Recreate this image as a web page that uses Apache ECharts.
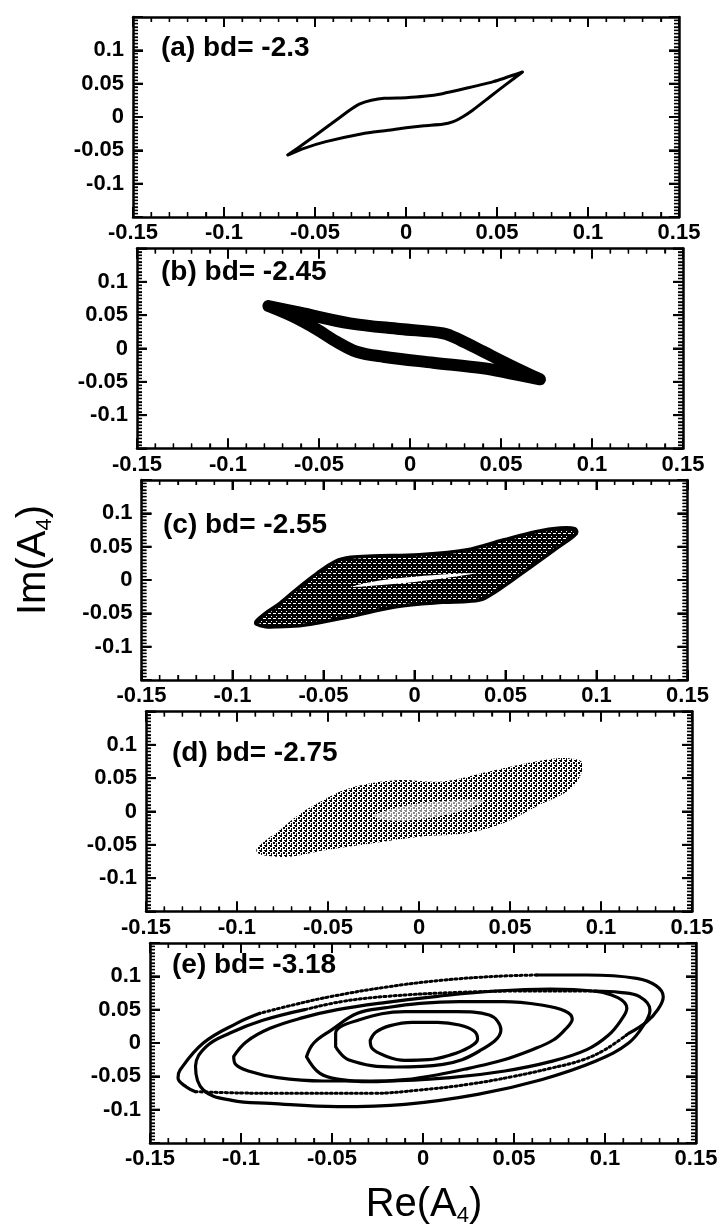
<!DOCTYPE html>
<html><head><meta charset="utf-8">
<script src="https://cdn.jsdelivr.net/npm/echarts@6/dist/echarts.min.js"></script>
<style>html,body{margin:0;padding:0;background:#fff}#chart{width:727px;height:1230px}</style>
</head><body><div id="chart"></div>
<script>
// ---------- tick labels ----------
const tickLabels = ['-0.15', '-0.1', '-0.05', '0', '0.05', '0.1', '0.15'];
const tickValues = [-0.15, -0.1, -0.05, 0, 0.05, 0.1, 0.15];
const panelLabels = ['(a) bd= -2.3', '(b) bd= -2.45', '(c) bd= -2.55', '(d) bd= -2.75', '(e) bd= -3.18'];
const xTitleMain = 'Re(A', yTitleMain = 'Im(A', titleSub = '4';

// ---------- data: [Re(A4), Im(A4)] ----------
// (a) limit cycle
const loopA = [[-0.065,-0.057],[-0.055,-0.038],[-0.045,-0.018],[-0.036,0.0],[-0.030,0.012],[-0.025,0.020],[-0.019,0.025],[-0.012,0.028],[0.0,0.029],[0.010,0.031],[0.020,0.035],[0.033,0.043],[0.048,0.053],[0.064,0.0675],
  [0.055,0.049],[0.046,0.030],[0.037,0.011],[0.031,0.0],[0.026,-0.007],[0.020,-0.011],[0.010,-0.013],[0.0,-0.016],[-0.010,-0.020],[-0.024,-0.025],[-0.044,-0.037],[-0.056,-0.047],[-0.065,-0.057]];
// (b) thick torus band (centre line)
const loopB = [[-0.0778,0.0637],[-0.0604,0.0537],[-0.033,0.0378],[-0.0055,0.0292],[0.0183,0.0228],[0.0275,0.0128],[0.0403,-0.0048],[0.0549,-0.0248],[0.0714,-0.0462],
  [0.0549,-0.0372],[0.0403,-0.0297],[0.0128,-0.0213],[-0.0147,-0.0123],[-0.0293,-0.0048],[-0.0403,0.0102],[-0.0513,0.0288],[-0.0641,0.0477],[-0.0778,0.0637]];
// (c) band outline and inner gap
const bandC = [[-0.087,-0.062],[-0.082,-0.05],[-0.074,-0.035],[-0.064,-0.012],[-0.0536,0.01],[-0.0434,0.028],[-0.035,0.034],[-0.0229,0.036],[0.0027,0.038],[0.0283,0.045],[0.0487,0.06],[0.0667,0.0725],[0.08,0.078],[0.088,0.077],
  [0.089,0.07],[0.0794,0.05],[0.0539,0.0],[0.0385,-0.0275],[0.03,-0.032],[0.0155,-0.0335],[-0.0102,-0.04],[-0.0357,-0.055],[-0.0613,-0.068],[-0.075,-0.07],[-0.0818,-0.07],[-0.087,-0.066]];
const holeC = [[-0.034,-0.010],[-0.020,-0.001],[0.0,0.005],[0.020,0.009],[0.033,0.010],[0.020,0.004],[0.0,-0.003],[-0.020,-0.008]];
// (d) chaotic cloud outline and sparse centre
const cloudD = [[-0.0894,-0.0578],[-0.085,-0.045],[-0.0766,-0.028],[-0.0661,-0.005],[-0.0561,0.012],[-0.0382,0.035],[-0.0126,0.047],[0.013,0.045],[0.0386,0.06],[0.0642,0.075],[0.0821,0.08],[0.09,0.072],
  [0.0846,0.037],[0.0642,0.007],[0.0463,-0.0177],[0.0258,-0.0327],[0.0002,-0.0378],[-0.0254,-0.0477],[-0.051,-0.0578],[-0.0714,-0.0678],[-0.0868,-0.065]];
const holeD = [[-0.025,-0.006],[-0.005,0.010],[0.020,0.017],[0.036,0.016],[0.022,0.0],[0.0,-0.012],[-0.018,-0.013]];
// (e) nested loops
const loopE1 = [[-0.029,0.004],[-0.026,0.016],[-0.018,0.026],[-0.006,0.031],[0.008,0.031],[0.02,0.027],[0.028,0.018],[0.03,0.006],[0.025,-0.007],[0.015,-0.018],[0.003,-0.025],[-0.01,-0.026],[-0.021,-0.019],[-0.028,-0.008],[-0.029,0.004]];
const loopE2 = [[-0.048,-0.0055],[-0.041,-0.025],[-0.015,-0.036],[0.011,-0.032],[0.031,-0.012],[0.0428,0.0195],[0.0364,0.042],[0.0185,0.047],[-0.0097,0.047],[-0.0353,0.0345],[-0.048,0.0145],[-0.048,-0.0055]];
const loopE3 = [[-0.064,-0.0205],[-0.06,0.0],[-0.05,0.02],[-0.036,0.0445],[-0.02,0.053],[-0.0016,0.0595],[0.02,0.062],[0.044,0.062],[0.065,0.057],[0.078,0.048],[0.082,0.036],[0.078,0.02],[0.0716,0.0045],[0.06,-0.01],[0.044,-0.0255],[0.025,-0.038],[0.0075,-0.048],[-0.01,-0.055],[-0.029,-0.058],[-0.045,-0.055],[-0.0566,-0.0455],[-0.064,-0.0205]];
const loopE4 = [[-0.104,-0.02],[-0.097,0.002],[-0.084,0.022],[-0.066,0.038],[-0.047,0.05],[-0.02,0.061],[0.008,0.07],[0.04,0.078],[0.07,0.081],[0.093,0.078],[0.107,0.068],[0.112,0.052],[0.109,0.035],[0.102,0.012],[0.09,-0.01],[0.07,-0.028],[0.045,-0.042],[0.015,-0.052],[-0.02,-0.057],[-0.055,-0.057],[-0.08,-0.052],[-0.096,-0.042],[-0.103,-0.032],[-0.104,-0.02]];
const loopE5Solid = [[-0.065,0.05],[-0.088,0.034],[-0.106,0.015],[-0.119,-0.005],[-0.125,-0.035],[-0.1207,-0.0705],[-0.105,-0.086],[-0.084,-0.0905],[-0.047,-0.0955],[-0.01,-0.092],[0.03,-0.077],[0.065,-0.055],[0.095,-0.027],[0.113,0.0],[0.122,0.03],[0.1247,0.0495],[0.119,0.0695],[0.108,0.076],[0.095,0.078]];
const loopE5Dotted = [[0.095,0.078],[0.06,0.078],[0.02,0.076],[-0.02,0.07],[-0.045,0.062],[-0.065,0.05]];
const loopE6SolidLeft = [[-0.0896,0.0445],[-0.1024,0.0295],[-0.1207,0.0],[-0.1335,-0.0405],[-0.1346,-0.0525],[-0.13,-0.066],[-0.125,-0.073]];
const loopE6DottedBottom = [[-0.125,-0.073],[-0.1,-0.075],[-0.079,-0.0755],[-0.0276,-0.0755],[-0.002,-0.0705],[0.025,-0.062],[0.049,-0.0505],[0.07,-0.038],[0.0876,-0.0255],[0.1,-0.01],[0.113,0.0145]];
const loopE6SolidRight = [[0.113,0.0145],[0.123,0.032],[0.129,0.05],[0.132,0.0695],[0.128,0.086],[0.1174,0.097],[0.09,0.102],[0.0625,0.102]];
const loopE6DottedTop = [[0.0625,0.102],[0.04,0.1],[0.01,0.094],[-0.02,0.084],[-0.05,0.07],[-0.07,0.058],[-0.0896,0.0445]];

// ---------- layout ----------
const panelLeft = [133, 137, 141.5, 146, 150];
const panelTop = [17, 248.5, 480, 711.5, 943];
const labelPos = [[161, 48], [161, 272], [163, 525], [172, 753], [172, 965]];
const PW = 546, PH = 200;
const FONT = "'Liberation Sans', Arial, Helvetica, sans-serif";

function fmt(v) { return tickLabels[Math.round((v + 0.15) / 0.05)]; }

function makePattern(size, bg, fg, rects) {
  const c = document.createElement('canvas');
  c.width = size; c.height = size;
  const g = c.getContext('2d');
  g.fillStyle = bg; g.fillRect(0, 0, size, size);
  g.fillStyle = fg;
  rects.forEach(r => g.fillRect(r[0], r[1], r[2], r[3]));
  return { image: c, repeat: 'repeat' };
}
const patC = makePattern(5, '#000', '#fff', [[1,1,1,1],[3,3,2,1],[0,3,1,1]]);
const patD = makePattern(5, '#fff', '#000', [[0,0,2,2],[3,2,2,2],[1,3,1,2],[4,0,1,1]]);

const grids = [], xAxes = [], yAxes = [];
function axisLine() { return { show: true, onZero: false, lineStyle: { color: '#000', width: 2.5 } }; }
function tick() { return { show: true, inside: true, length: 10, lineStyle: { color: '#000', width: 2 } }; }
function minor(n) { return { show: true, splitNumber: n, length: 5, lineStyle: { color: '#000', width: 1.3 } }; }
for (let i = 0; i < 5; i++) {
  grids.push({ left: panelLeft[i], top: panelTop[i], width: PW, height: PH });
  const base = { type: 'value', gridIndex: i, min: -0.15, max: 0.15, interval: 0.05, splitLine: { show: false }, minorSplitLine: { show: false } };
  const lab = { show: true, margin: 5, color: '#000', fontSize: 22, fontWeight: 'bold', fontFamily: FONT, formatter: fmt };
  xAxes.push(Object.assign({}, base, { position: 'bottom', axisLine: axisLine(), axisTick: tick(), minorTick: minor(5), axisLabel: lab }));
  xAxes.push(Object.assign({}, base, { position: 'top', axisLine: axisLine(), axisTick: tick(), minorTick: minor(5), axisLabel: { show: false } }));
  yAxes.push(Object.assign({}, base, { position: 'left', axisLine: axisLine(), axisTick: tick(), minorTick: minor(10),
    axisLabel: Object.assign({}, lab, { margin: 9, showMinLabel: false, showMaxLabel: false }) }));
  yAxes.push(Object.assign({}, base, { position: 'right', axisLine: axisLine(), axisTick: tick(), minorTick: minor(10), axisLabel: { show: false } }));
}

function lineSeries(panel, data, width, dash, smooth) {
  return { type: 'line', xAxisIndex: panel * 2, yAxisIndex: panel * 2, data: data, showSymbol: false, symbol: 'none',
    smooth: smooth, silent: true,
    lineStyle: { color: '#000', width: width, type: dash || 'solid', cap: 'round', join: 'round' } };
}

const series = [
  lineSeries(0, loopA, 3, null, 0.2),
  lineSeries(1, loopB, 12, null, 0.35),
  lineSeries(4, loopE1, 3.2, null, 0.4),
  lineSeries(4, loopE2, 3.2, null, 0.4),
  lineSeries(4, loopE3, 3.2, null, 0.4),
  lineSeries(4, loopE4, 3.2, null, 0.4),
  lineSeries(4, loopE5Solid, 3.2, null, 0.4),
  lineSeries(4, loopE5Dotted, 3, [2, 3], 0.4),
  lineSeries(4, loopE6SolidLeft, 3.2, null, 0.4),
  lineSeries(4, loopE6DottedBottom, 3, [2, 3], 0.4),
  lineSeries(4, loopE6SolidRight, 3.2, null, 0.4),
  lineSeries(4, loopE6DottedTop, 3, [2, 3], 0.4)
];

const chart = echarts.init(document.getElementById('chart'), null, { renderer: 'canvas' });
chart.setOption({ backgroundColor: '#fff', animation: false, grid: grids, xAxis: xAxes, yAxis: yAxes, series: series });

const graphics = [];
// frame ticks on all four sides, placed through each axis' own scale
try {
  for (let i = 0; i < 5; i++) {
    const X = v => chart.convertToPixel({ xAxisIndex: i * 2 }, v);
    const Y = v => chart.convertToPixel({ yAxisIndex: i * 2 }, v);
    const left = X(-0.15), right = X(0.15), top = Y(0.15), bottom = Y(-0.15);
    const addX = (v, L, w) => { const x = X(v);
      graphics.push({ type: 'line', silent: true, z: 4, shape: { x1: x, y1: bottom, x2: x, y2: bottom - L }, style: { stroke: '#000', lineWidth: w } });
      graphics.push({ type: 'line', silent: true, z: 4, shape: { x1: x, y1: top, x2: x, y2: top + L }, style: { stroke: '#000', lineWidth: w } }); };
    const addY = (v, L, w) => { const y = Y(v);
      graphics.push({ type: 'line', silent: true, z: 4, shape: { x1: left, y1: y, x2: left + L, y2: y }, style: { stroke: '#000', lineWidth: w } });
      graphics.push({ type: 'line', silent: true, z: 4, shape: { x1: right, y1: y, x2: right - L, y2: y }, style: { stroke: '#000', lineWidth: w } }); };
    for (let k = 0; k < tickValues.length; k++) { addX(tickValues[k], 10, 2); addY(tickValues[k], 10, 2); }
    for (let k = 0; k < tickValues.length - 1; k++) {
      const a = tickValues[k], b = tickValues[k + 1];
      for (let j = 1; j < 5; j++) addX(a + (b - a) * j / 5, 5, 1.3);
      for (let j = 1; j < 10; j++) addY(a + (b - a) * j / 10, 5, 1.3);
    }
  }
} catch (e) { /* native axis ticks remain */ }

const px = (g, p) => chart.convertToPixel({ gridIndex: g }, p);
graphics.push({ type: 'polygon', silent: true, z: 5, shape: { points: bandC.map(p => px(2, p)), smooth: 0.35 }, style: { fill: patC, stroke: '#000', lineWidth: 3.5 } });
graphics.push({ type: 'polygon', silent: true, z: 6, shape: { points: holeC.map(p => px(2, p)), smooth: 0.35 }, style: { fill: '#fff' } });
graphics.push({ type: 'polygon', silent: true, z: 5, shape: { points: cloudD.map(p => px(3, p)), smooth: 0.35 }, style: { fill: patD } });
graphics.push({ type: 'polygon', silent: true, z: 6, shape: { points: holeD.map(p => px(3, p)), smooth: 0.35 }, style: { fill: 'rgba(255,255,255,0.55)' } });
panelLabels.forEach((t, i) => graphics.push({ type: 'text', x: labelPos[i][0], y: labelPos[i][1], silent: true, z: 7,
  style: { text: t, fill: '#000', font: 'bold 28px ' + FONT, verticalAlign: 'middle', align: 'left' } }));
const rich = { m: { fontSize: 40, fontFamily: FONT, lineHeight: 44, fill: '#000' },
               s: { fontSize: 22, fontFamily: FONT, lineHeight: 22, verticalAlign: 'bottom', fill: '#000' } };
graphics.push({ type: 'text', x: 34, y: 560, rotation: Math.PI / 2, silent: true,
  style: { text: '{m|' + yTitleMain + '}{s|' + titleSub + '}{m|)}', rich: rich, align: 'center', verticalAlign: 'middle' } });
graphics.push({ type: 'text', x: 424, y: 1205, silent: true,
  style: { text: '{m|' + xTitleMain + '}{s|' + titleSub + '}{m|)}', rich: rich, align: 'center', verticalAlign: 'middle' } });
chart.setOption({ graphic: graphics });
</script></body></html>
